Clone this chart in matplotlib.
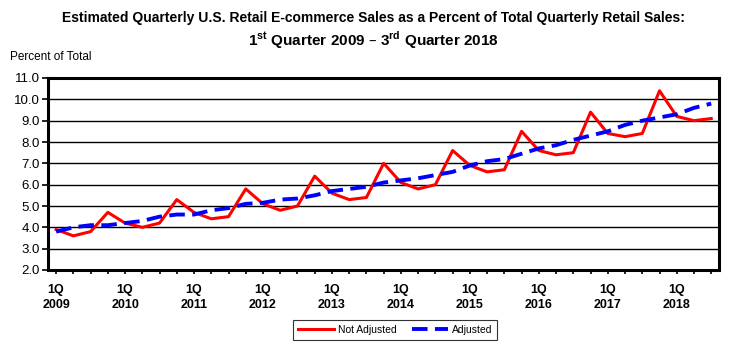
import matplotlib
matplotlib.use("Agg")
import matplotlib.pyplot as plt
from matplotlib.ticker import MultipleLocator, FixedLocator
import numpy as np

plt.rcParams['font.family'] = ['Liberation Sans Narrow', 'Liberation Sans', 'DejaVu Sans']

years = list(range(2009, 2019))
quarters = [f"{y}Q{q}" for y in years for q in range(1, 5)][:39]
not_adjusted = [3.9, 3.6, 3.8, 4.7, 4.2, 4.0, 4.2, 5.3, 4.7, 4.4, 4.5, 5.8,
                5.1, 4.8, 5.0, 6.4, 5.6, 5.3, 5.4, 7.0, 6.1, 5.8, 6.0, 7.6,
                6.9, 6.6, 6.7, 8.5, 7.6, 7.4, 7.5, 9.4, 8.4, 8.25, 8.4, 10.4,
                9.2, 9.0, 9.1]
adjusted = [3.8, 4.0, 4.1, 4.1, 4.2, 4.3, 4.5, 4.6, 4.6, 4.8, 4.9, 5.1,
            5.15, 5.3, 5.35, 5.5, 5.7, 5.8, 5.9, 6.1, 6.2, 6.3, 6.45, 6.6,
            6.9, 7.1, 7.2, 7.45, 7.7, 7.85, 8.1, 8.3, 8.5, 8.8, 9.0, 9.15,
            9.3, 9.6, 9.8]
tick_labels = [f"1Q\n{y}" for y in years]

x = np.arange(len(quarters))

fig = plt.figure(figsize=(7.47, 3.5), dpi=100)
ax = fig.add_axes([48/747, 1-270/350, (719-48)/747, (270-78)/350])

ax.set_ylim(2.0, 11.0)
ax.set_xlim(-0.47, 38.45)
ax.yaxis.set_major_locator(MultipleLocator(1.0))
ax.grid(axis='y', color='black', linewidth=1.0)
ax.set_axisbelow(True)

l1, = ax.plot(x, not_adjusted, color='#ff0000', linewidth=2.2, label='Not Adjusted', zorder=3)
l2, = ax.plot(x, adjusted, color='#0000ff', linewidth=2.8, dashes=(4.0, 1.9), label='Adjusted', zorder=4)

for s in ax.spines.values():
    s.set_linewidth(2.2)
    s.set_color('black')

ax.set_yticks(np.arange(2, 12, 1))
ax.set_yticklabels([f"{v:.1f}" for v in np.arange(2, 12, 1)], fontsize=9.5,
                   family=['Liberation Sans', 'DejaVu Sans'])
ax.tick_params(axis='y', length=4, width=1.2, pad=2)

ax.set_xticks(x[::4])
ax.set_xticklabels(tick_labels, fontsize=9, fontweight='bold', linespacing=1.35)
ax.xaxis.set_minor_locator(FixedLocator(x))
ax.tick_params(axis='x', which='both', length=3, width=1.2, pad=7)

fig.text(0.5, 1-18/350, "Estimated Quarterly U.S. Retail E-commerce Sales as a Percent of Total Quarterly Retail Sales:",
         ha='center', va='center', fontsize=10, fontweight='bold')
fig.text(0.5, 1-40/350, r"1$^{\mathregular{st}}$ Quarter 2009 – 3$^{\mathregular{rd}}$ Quarter 2018",
         ha='center', va='center', fontsize=11, fontweight='bold')
fig.text(10/747, 1-57/350, "Percent of Total", ha='left', va='center', fontsize=8.5)

leg = fig.legend(handles=[l1, l2], loc='center', bbox_to_anchor=(395/747, 1-330/350),
                 ncol=2, frameon=True, fancybox=False, edgecolor='black', fontsize=7.5,
                 handlelength=3.5, handletextpad=0.3, columnspacing=1.5,
                 borderpad=0.5)
leg.get_frame().set_linewidth(0.8)

fig.savefig("out.png", dpi=100)
